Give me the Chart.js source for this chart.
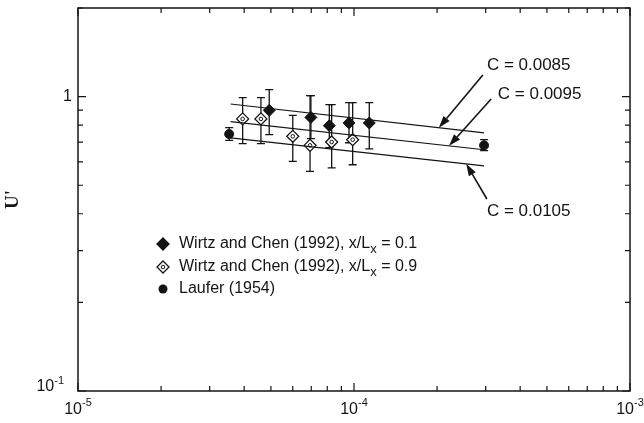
<!DOCTYPE html>
<html>
<head>
<meta charset="utf-8">
<script src="https://cdn.jsdelivr.net/npm/chart.js@4.4.0/dist/chart.umd.min.js"></script>
<style>
  html, body { margin: 0; padding: 0; background: #fff; }
</style>
</head>
<body>
<canvas id="chart" width="644" height="423"></canvas>
<script>
// Wirtz and Chen (1992), x/Lx = 0.1  (filled diamonds)
const nearX  = [4.93e-5, 6.98e-5, 8.14e-5, 9.59e-5, 1.136e-4];
const nearY  = [0.898, 0.850, 0.797, 0.814, 0.814];
const nearLo = [0.743, 0.720, 0.671, 0.697, 0.665];
const nearHi = [1.056, 1.008, 0.939, 0.954, 0.954];

// Wirtz and Chen (1992), x/Lx = 0.9  (open diamonds)
const farX  = [3.95e-5, 4.60e-5, 6.00e-5, 6.93e-5, 8.30e-5, 9.89e-5];
const farY  = [0.840, 0.840, 0.733, 0.683, 0.701, 0.714];
const farLo = [0.692, 0.692, 0.603, 0.557, 0.573, 0.587];
const farHi = [0.992, 0.992, 0.864, 1.008, 0.939, 0.954];

// Laufer (1954)
const lauferX  = [3.53e-5, 2.96e-4];
const lauferY  = [0.746, 0.683];
const lauferLo = [0.710, 0.655];
const lauferHi = [0.785, 0.714];

// model curves, C = 0.0085 / 0.0095 / 0.0105
const curveLabels = ['C = 0.0085', 'C = 0.0095', 'C = 0.0105'];
const curveX  = [3.57e-5, 2.96e-4];
const curve1Y = [0.944, 0.753];
const curve2Y = [0.822, 0.660];
const curve3Y = [0.724, 0.582];

// label text anchors and arrow tails/tips (data units)
const labelX = [3.03e-4, 3.32e-4, 3.03e-4];
const labelY = [1.28, 1.02, 0.409];
const tailX  = [2.93e-4, 3.14e-4, 3.03e-4];
const tailY  = [1.184, 0.981, 0.449];
const tipX   = [2.03e-4, 2.21e-4, 2.55e-4];

// axes
const xDecades = [1e-5, 1e-4, 1e-3];
const xDecadeExp = ['-5', '-4', '-3'];
const yDecades = [0.1, 1];
const yDecadeBase = ['10', '1'];
const yDecadeExp = ['-1', ''];

const legendLabels = [
    ['Wirtz and Chen (1992), x/L', 'x', ' = 0.1'],
    ['Wirtz and Chen (1992), x/L', 'x', ' = 0.9'],
    ['Laufer (1954)', '', '']
];

const INK = '#141414';
const FONT = '"Liberation Sans", Arial, Helvetica, sans-serif';

function pts(xs, ys) {
    return xs.map((x, i) => ({ x: x, y: ys[i] }));
}

function logTicks(decades, max) {
    const out = [];
    decades.forEach(d => {
        for (let m = 1; m <= 9; m++) {
            const v = d * m;
            if (v <= max * 1.0001) out.push({ value: v, major: m === 1 });
        }
    });
    return out;
}

function interpLog(xs, ys, x) {
    const t = (Math.log10(x) - Math.log10(xs[0])) / (Math.log10(xs[1]) - Math.log10(xs[0]));
    return Math.pow(10, Math.log10(ys[0]) + t * (Math.log10(ys[1]) - Math.log10(ys[0])));
}

function diamond(ctx, x, y, r, filled) {
    ctx.beginPath();
    ctx.moveTo(x, y - r);
    ctx.lineTo(x + r, y);
    ctx.lineTo(x, y + r);
    ctx.lineTo(x - r, y);
    ctx.closePath();
    ctx.fillStyle = filled ? INK : '#fff';
    ctx.fill();
    ctx.lineWidth = 1.3;
    ctx.strokeStyle = INK;
    ctx.stroke();
    if (!filled) {
        ctx.beginPath();
        ctx.arc(x, y, 1.8, 0, Math.PI * 2);
        ctx.lineWidth = 1;
        ctx.stroke();
    }
}

// error bars behind the markers
const errorBars = {
    id: 'errorBars',
    beforeDatasetsDraw(chart) {
        const ctx = chart.ctx;
        const ys = chart.scales.y;
        ctx.save();
        ctx.strokeStyle = INK;
        ctx.lineWidth = 1.3;
        chart.data.datasets.forEach((ds, di) => {
            if (!ds.errLo) return;
            const meta = chart.getDatasetMeta(di);
            meta.data.forEach((el, i) => {
                const x = el.x;
                const y0 = ys.getPixelForValue(ds.errLo[i]);
                const y1 = ys.getPixelForValue(ds.errHi[i]);
                ctx.beginPath();
                ctx.moveTo(x, y0); ctx.lineTo(x, y1);
                ctx.moveTo(x - 4, y0); ctx.lineTo(x + 4, y0);
                ctx.moveTo(x - 4, y1); ctx.lineTo(x + 4, y1);
                ctx.stroke();
            });
        });
        ctx.restore();
    },
    afterDatasetsDraw(chart) {
        // small ring inside the open diamonds
        const ctx = chart.ctx;
        chart.data.datasets.forEach((ds, di) => {
            if (!ds.innerRing) return;
            chart.getDatasetMeta(di).data.forEach(el => {
                ctx.beginPath();
                ctx.arc(el.x, el.y, 1.8, 0, Math.PI * 2);
                ctx.lineWidth = 1;
                ctx.strokeStyle = INK;
                ctx.stroke();
            });
        });
    }
};

// frame, inward ticks, labels, legend, arrows
const decorations = {
    id: 'decorations',
    afterDraw(chart) {
        const ctx = chart.ctx;
        const a = chart.chartArea;
        const xs = chart.scales.x, ys = chart.scales.y;
        ctx.save();
        ctx.strokeStyle = INK;
        ctx.fillStyle = INK;

        ctx.lineWidth = 1.5;
        ctx.strokeRect(a.left, a.top, a.right - a.left, a.bottom - a.top);

        ctx.lineWidth = 1.2;
        xs.ticks.forEach(t => {
            const px = xs.getPixelForValue(t.value);
            const len = t.major ? 8 : 5;
            ctx.beginPath();
            ctx.moveTo(px, a.bottom); ctx.lineTo(px, a.bottom - len);
            ctx.moveTo(px, a.top); ctx.lineTo(px, a.top + len);
            ctx.stroke();
        });
        ys.ticks.forEach(t => {
            const py = ys.getPixelForValue(t.value);
            const len = t.major ? 8 : 5;
            ctx.beginPath();
            ctx.moveTo(a.left, py); ctx.lineTo(a.left + len, py);
            ctx.moveTo(a.right, py); ctx.lineTo(a.right - len, py);
            ctx.stroke();
        });

        // x tick labels: 10 with superscript exponent
        ctx.textBaseline = 'middle';
        xDecades.forEach((v, i) => {
            const px = xs.getPixelForValue(v);
            ctx.font = '16px ' + FONT;
            const wb = ctx.measureText('10').width;
            ctx.font = '11px ' + FONT;
            const we = ctx.measureText(xDecadeExp[i]).width;
            const x0 = px - (wb + we) / 2;
            ctx.textAlign = 'left';
            ctx.font = '16px ' + FONT;
            ctx.fillText('10', x0, a.bottom + 19);
            ctx.font = '11px ' + FONT;
            ctx.fillText(xDecadeExp[i], x0 + wb, a.bottom + 12);
        });

        // y tick labels
        yDecades.forEach((v, i) => {
            const py = ys.getPixelForValue(v);
            const exp = yDecadeExp[i];
            ctx.textAlign = 'left';
            ctx.font = '11px ' + FONT;
            const we = exp ? ctx.measureText(exp).width : 0;
            ctx.font = '16px ' + FONT;
            const wb = ctx.measureText(yDecadeBase[i]).width;
            const right = exp ? a.left - 14 : a.left - 6;
            const x0 = right - wb - we;
            ctx.fillText(yDecadeBase[i], x0, exp ? py - 4 : py);
            if (exp) {
                ctx.font = '11px ' + FONT;
                ctx.fillText(exp, x0 + wb, py - 10);
            }
        });

        // y axis title
        ctx.save();
        ctx.translate(13, (a.top + a.bottom) / 2);
        ctx.rotate(-Math.PI / 2);
        ctx.textAlign = 'center';
        ctx.font = 'bold 19px "Liberation Serif", "Times New Roman", serif';
        ctx.fillText("U'", 0, 0);
        ctx.restore();

        // legend
        const lx = a.left + 85, rowY = [a.top + 236, a.top + 259, a.top + 281];
        diamond(ctx, lx, rowY[0], 6, true);
        diamond(ctx, lx, rowY[1], 6, false);
        ctx.beginPath();
        ctx.arc(lx, rowY[2], 4.5, 0, Math.PI * 2);
        ctx.fillStyle = INK;
        ctx.fill();
        ctx.textAlign = 'left';
        legendLabels.forEach((parts, i) => {
            let x = lx + 16;
            ctx.font = '16px ' + FONT;
            ctx.fillText(parts[0], x, rowY[i]);
            x += ctx.measureText(parts[0]).width;
            if (parts[1]) {
                ctx.font = '13px ' + FONT;
                ctx.fillText(parts[1], x, rowY[i] + 5);
                x += ctx.measureText(parts[1]).width;
            }
            if (parts[2]) {
                ctx.font = '16px ' + FONT;
                ctx.fillText(parts[2], x, rowY[i]);
            }
        });

        // curve labels with arrows
        const curves = [curve1Y, curve2Y, curve3Y];
        curveLabels.forEach((txt, i) => {
            ctx.font = '17px ' + FONT;
            ctx.textAlign = 'left';
            ctx.fillText(txt, xs.getPixelForValue(labelX[i]), ys.getPixelForValue(labelY[i]));
            const x1 = xs.getPixelForValue(tailX[i]), y1 = ys.getPixelForValue(tailY[i]);
            const x2 = xs.getPixelForValue(tipX[i]);
            const y2 = ys.getPixelForValue(interpLog(curveX, curves[i], tipX[i]));
            const ang = Math.atan2(y2 - y1, x2 - x1);
            const hl = 12, hw = 4;
            const bx = x2 - hl * Math.cos(ang), by = y2 - hl * Math.sin(ang);
            ctx.lineWidth = 1.6;
            ctx.beginPath();
            ctx.moveTo(x1, y1); ctx.lineTo(bx, by);
            ctx.stroke();
            ctx.beginPath();
            ctx.moveTo(x2, y2);
            ctx.lineTo(bx + hw * Math.sin(ang), by - hw * Math.cos(ang));
            ctx.lineTo(bx - hw * Math.sin(ang), by + hw * Math.cos(ang));
            ctx.closePath();
            ctx.fill();
        });

        ctx.restore();
    }
};

const curveStyle = { showLine: true, borderColor: INK, borderWidth: 1.2, pointRadius: 0, fill: false };

new Chart(document.getElementById('chart'), {
    type: 'scatter',
    data: {
        datasets: [
            Object.assign({ label: curveLabels[0], data: pts(curveX, curve1Y) }, curveStyle),
            Object.assign({ label: curveLabels[1], data: pts(curveX, curve2Y) }, curveStyle),
            Object.assign({ label: curveLabels[2], data: pts(curveX, curve3Y) }, curveStyle),
            {
                label: 'Wirtz and Chen (1992), x/Lx = 0.1',
                data: pts(nearX, nearY), errLo: nearLo, errHi: nearHi,
                pointStyle: 'rectRot', pointRadius: 6,
                backgroundColor: INK, borderColor: INK, borderWidth: 1
            },
            {
                label: 'Wirtz and Chen (1992), x/Lx = 0.9',
                data: pts(farX, farY), errLo: farLo, errHi: farHi, innerRing: true,
                pointStyle: 'rectRot', pointRadius: 6,
                backgroundColor: '#fff', borderColor: INK, borderWidth: 1.3
            },
            {
                label: 'Laufer (1954)',
                data: pts(lauferX, lauferY), errLo: lauferLo, errHi: lauferHi,
                pointStyle: 'circle', pointRadius: 4.5,
                backgroundColor: INK, borderColor: INK, borderWidth: 1
            }
        ]
    },
    options: {
        responsive: false,
        devicePixelRatio: 1,
        animation: false,
        events: [],
        layout: { padding: { left: 0, right: 14, top: 8, bottom: 0 } },
        plugins: { legend: { display: false }, tooltip: { enabled: false } },
        scales: {
            x: {
                type: 'logarithmic', min: 1e-5, max: 1e-3,
                grid: { display: false }, border: { display: false },
                ticks: { display: false },
                afterBuildTicks: s => { s.ticks = logTicks(xDecades, 1e-3); },
                afterFit: s => { s.height = 32; s.paddingLeft = 0; s.paddingRight = 0; }
            },
            y: {
                type: 'logarithmic', min: 0.1, max: 2,
                grid: { display: false }, border: { display: false },
                ticks: { display: false },
                afterBuildTicks: s => { s.ticks = logTicks(yDecades, 2); },
                afterFit: s => { s.width = 78; s.paddingTop = 0; s.paddingBottom = 0; }
            }
        }
    },
    plugins: [errorBars, decorations]
});
</script>
</body>
</html>
